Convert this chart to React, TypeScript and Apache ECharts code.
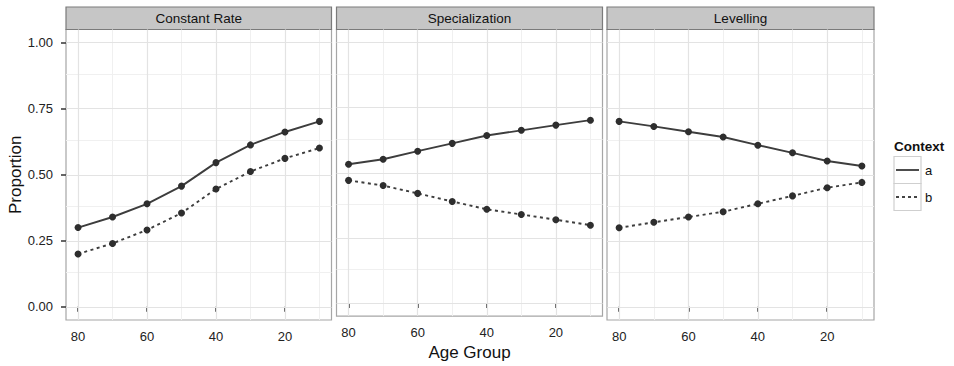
import React, { useEffect, useRef } from "react";
import * as echarts from "echarts";

const ages = [80, 70, 60, 50, 40, 30, 20, 10];
const panelTitles = ["Constant Rate", "Specialization", "Levelling"];
const constantA = [0.3, 0.34, 0.39, 0.457, 0.546, 0.613, 0.662, 0.702];
const constantB = [0.2, 0.24, 0.291, 0.355, 0.446, 0.512, 0.562, 0.601];
const specialA = [0.533, 0.552, 0.583, 0.613, 0.643, 0.663, 0.683, 0.702];
const specialB = [0.471, 0.451, 0.421, 0.39, 0.36, 0.34, 0.32, 0.299];
const levelA = [0.702, 0.683, 0.663, 0.643, 0.612, 0.583, 0.552, 0.533];
const levelB = [0.299, 0.32, 0.34, 0.36, 0.39, 0.42, 0.451, 0.471];
const xTicks = [20, 40, 60, 80];
const xMinor = [10, 30, 50, 70];
const yTicks = [0, 0.25, 0.5, 0.75, 1];
const yMinor = [0.125, 0.375, 0.625, 0.875];
const legendLabels = ["a", "b"];

const seriesA = [constantA, specialA, levelA];
const seriesB = [constantB, specialB, levelB];

const FONT = "'Liberation Sans', Arial, Helvetica, sans-serif";

export default function App() {
  const ref = useRef<HTMLDivElement>(null);
  useEffect(() => {
    if (!ref.current) return;
    const chart = echarts.init(ref.current, null, { renderer: "svg" });
    const lefts = [66, 336.5, 607];
    const widths = [265.5, 266, 267];
    const top = 29.5;
    const height = 290.5;

    const grids = lefts.map((l, i) => ({
      left: l,
      top,
      width: widths[i],
      height,
      show: true,
      backgroundColor: "#ffffff",
      borderColor: "#a6a6a6",
      borderWidth: 1.2,
    }));

    const xAxes = lefts.map((_, i) => ({
      type: "value",
      gridIndex: i,
      min: 6.5,
      max: 83.5,
      inverse: true,
      axisLine: { show: false },
      axisTick: { show: true, customValues: xTicks, length: 5, lineStyle: { color: "#333", width: 1.5 } },
      axisLabel: { customValues: xTicks, color: "#222", fontSize: 13, fontFamily: FONT, margin: 10 },
      splitLine: { show: false },
      name: i === 1 ? "Age Group" : "",
      nameLocation: "middle",
      nameGap: 25,
      nameTextStyle: { fontSize: 17, color: "#111", fontFamily: FONT },
    }));

    const yAxes = lefts.map((_, i) => ({
      type: "value",
      gridIndex: i,
      min: -0.05,
      max: 1.05,
      axisLine: { show: false },
      axisTick: { show: i === 0, customValues: yTicks, length: 5, lineStyle: { color: "#333", width: 1.5 } },
      axisLabel: {
        show: i === 0,
        customValues: yTicks,
        formatter: (v: number) => v.toFixed(2),
        color: "#222",
        fontSize: 13,
        fontFamily: FONT,
        margin: 13,
      },
      splitLine: { show: false },
      name: i === 0 ? "Proportion" : "",
      nameLocation: "middle",
      nameGap: 42,
      nameRotate: 90,
      nameTextStyle: { fontSize: 17, color: "#111", fontFamily: FONT },
    }));

    const gridLineData = [
      ...xMinor.map((v) => ({ xAxis: v, lineStyle: { color: "#f0f0f0", width: 1, type: "solid" } })),
      ...yMinor.map((v) => ({ yAxis: v, lineStyle: { color: "#f0f0f0", width: 1, type: "solid" } })),
      ...xTicks.map((v) => ({ xAxis: v, lineStyle: { color: "#e3e3e3", width: 1.2, type: "solid" } })),
      ...yTicks.map((v) => ({ yAxis: v, lineStyle: { color: "#e3e3e3", width: 1.2, type: "solid" } })),
    ];

    const series: any[] = [];
    lefts.forEach((_, i) => {
      series.push({
        type: "line",
        name: "a",
        xAxisIndex: i,
        yAxisIndex: i,
        data: ages.map((x, j) => [x, seriesA[i][j]]),
        symbol: "circle",
        symbolSize: 7,
        itemStyle: { color: "#2e2e2e" },
        lineStyle: { color: "#3d3d3d", width: 1.9, type: "solid" },
        z: 3,
        markLine: {
          silent: true,
          symbol: ["none", "none"],
          label: { show: false },
          z: 1,
          animation: false,
          data: gridLineData,
        },
      });
      series.push({
        type: "line",
        name: "b",
        xAxisIndex: i,
        yAxisIndex: i,
        data: ages.map((x, j) => [x, seriesB[i][j]]),
        symbol: "circle",
        symbolSize: 7,
        itemStyle: { color: "#2e2e2e" },
        lineStyle: { color: "#3d3d3d", width: 1.9, type: [3, 3.5] },
        z: 3,
      });
    });

    const graphics: any[] = [];
    lefts.forEach((l, i) => {
      graphics.push({
        type: "rect",
        shape: { x: l, y: 7, width: widths[i], height: 22.5 },
        style: { fill: "#c6c6c6", stroke: "#7a7a7a", lineWidth: 1.2 },
      });
      graphics.push({
        type: "text",
        x: l + widths[i] / 2,
        y: 18.5,
        style: {
          text: panelTitles[i],
          fill: "#111",
          font: `13.5px ${FONT}`,
          align: "center",
          verticalAlign: "middle",
        },
      });
    });
    // legend
    graphics.push({
      type: "text",
      x: 894,
      y: 146,
      style: { text: "Context", fill: "#111", font: `bold 13.5px ${FONT}`, verticalAlign: "middle" },
    });
    legendLabels.forEach((lab, k) => {
      const y0 = 156.5 + k * 27;
      graphics.push({
        type: "rect",
        shape: { x: 894, y: y0, width: 27, height: 27 },
        style: { fill: "#ffffff", stroke: "#cfcfcf", lineWidth: 1.2 },
      });
      graphics.push({
        type: "line",
        shape: { x1: 896, y1: y0 + 13.5, x2: 919, y2: y0 + 13.5 },
        style: { stroke: "#444", lineWidth: 1.9, lineDash: k === 0 ? null : [3, 3] },
      });
      graphics.push({
        type: "text",
        x: 925,
        y: y0 + 13.5,
        style: { text: lab, fill: "#111", font: `13px ${FONT}`, verticalAlign: "middle" },
      });
    });

    chart.setOption({
      animation: false,
      backgroundColor: "#ffffff",
      grid: grids,
      xAxis: xAxes,
      yAxis: yAxes,
      series,
      graphic: graphics,
    });
    return () => chart.dispose();
  }, []);
  return (
    <div
      ref={ref}
      style={{ position: "fixed", left: 0, top: 0, width: 954, height: 366 }}
    />
  );
}
